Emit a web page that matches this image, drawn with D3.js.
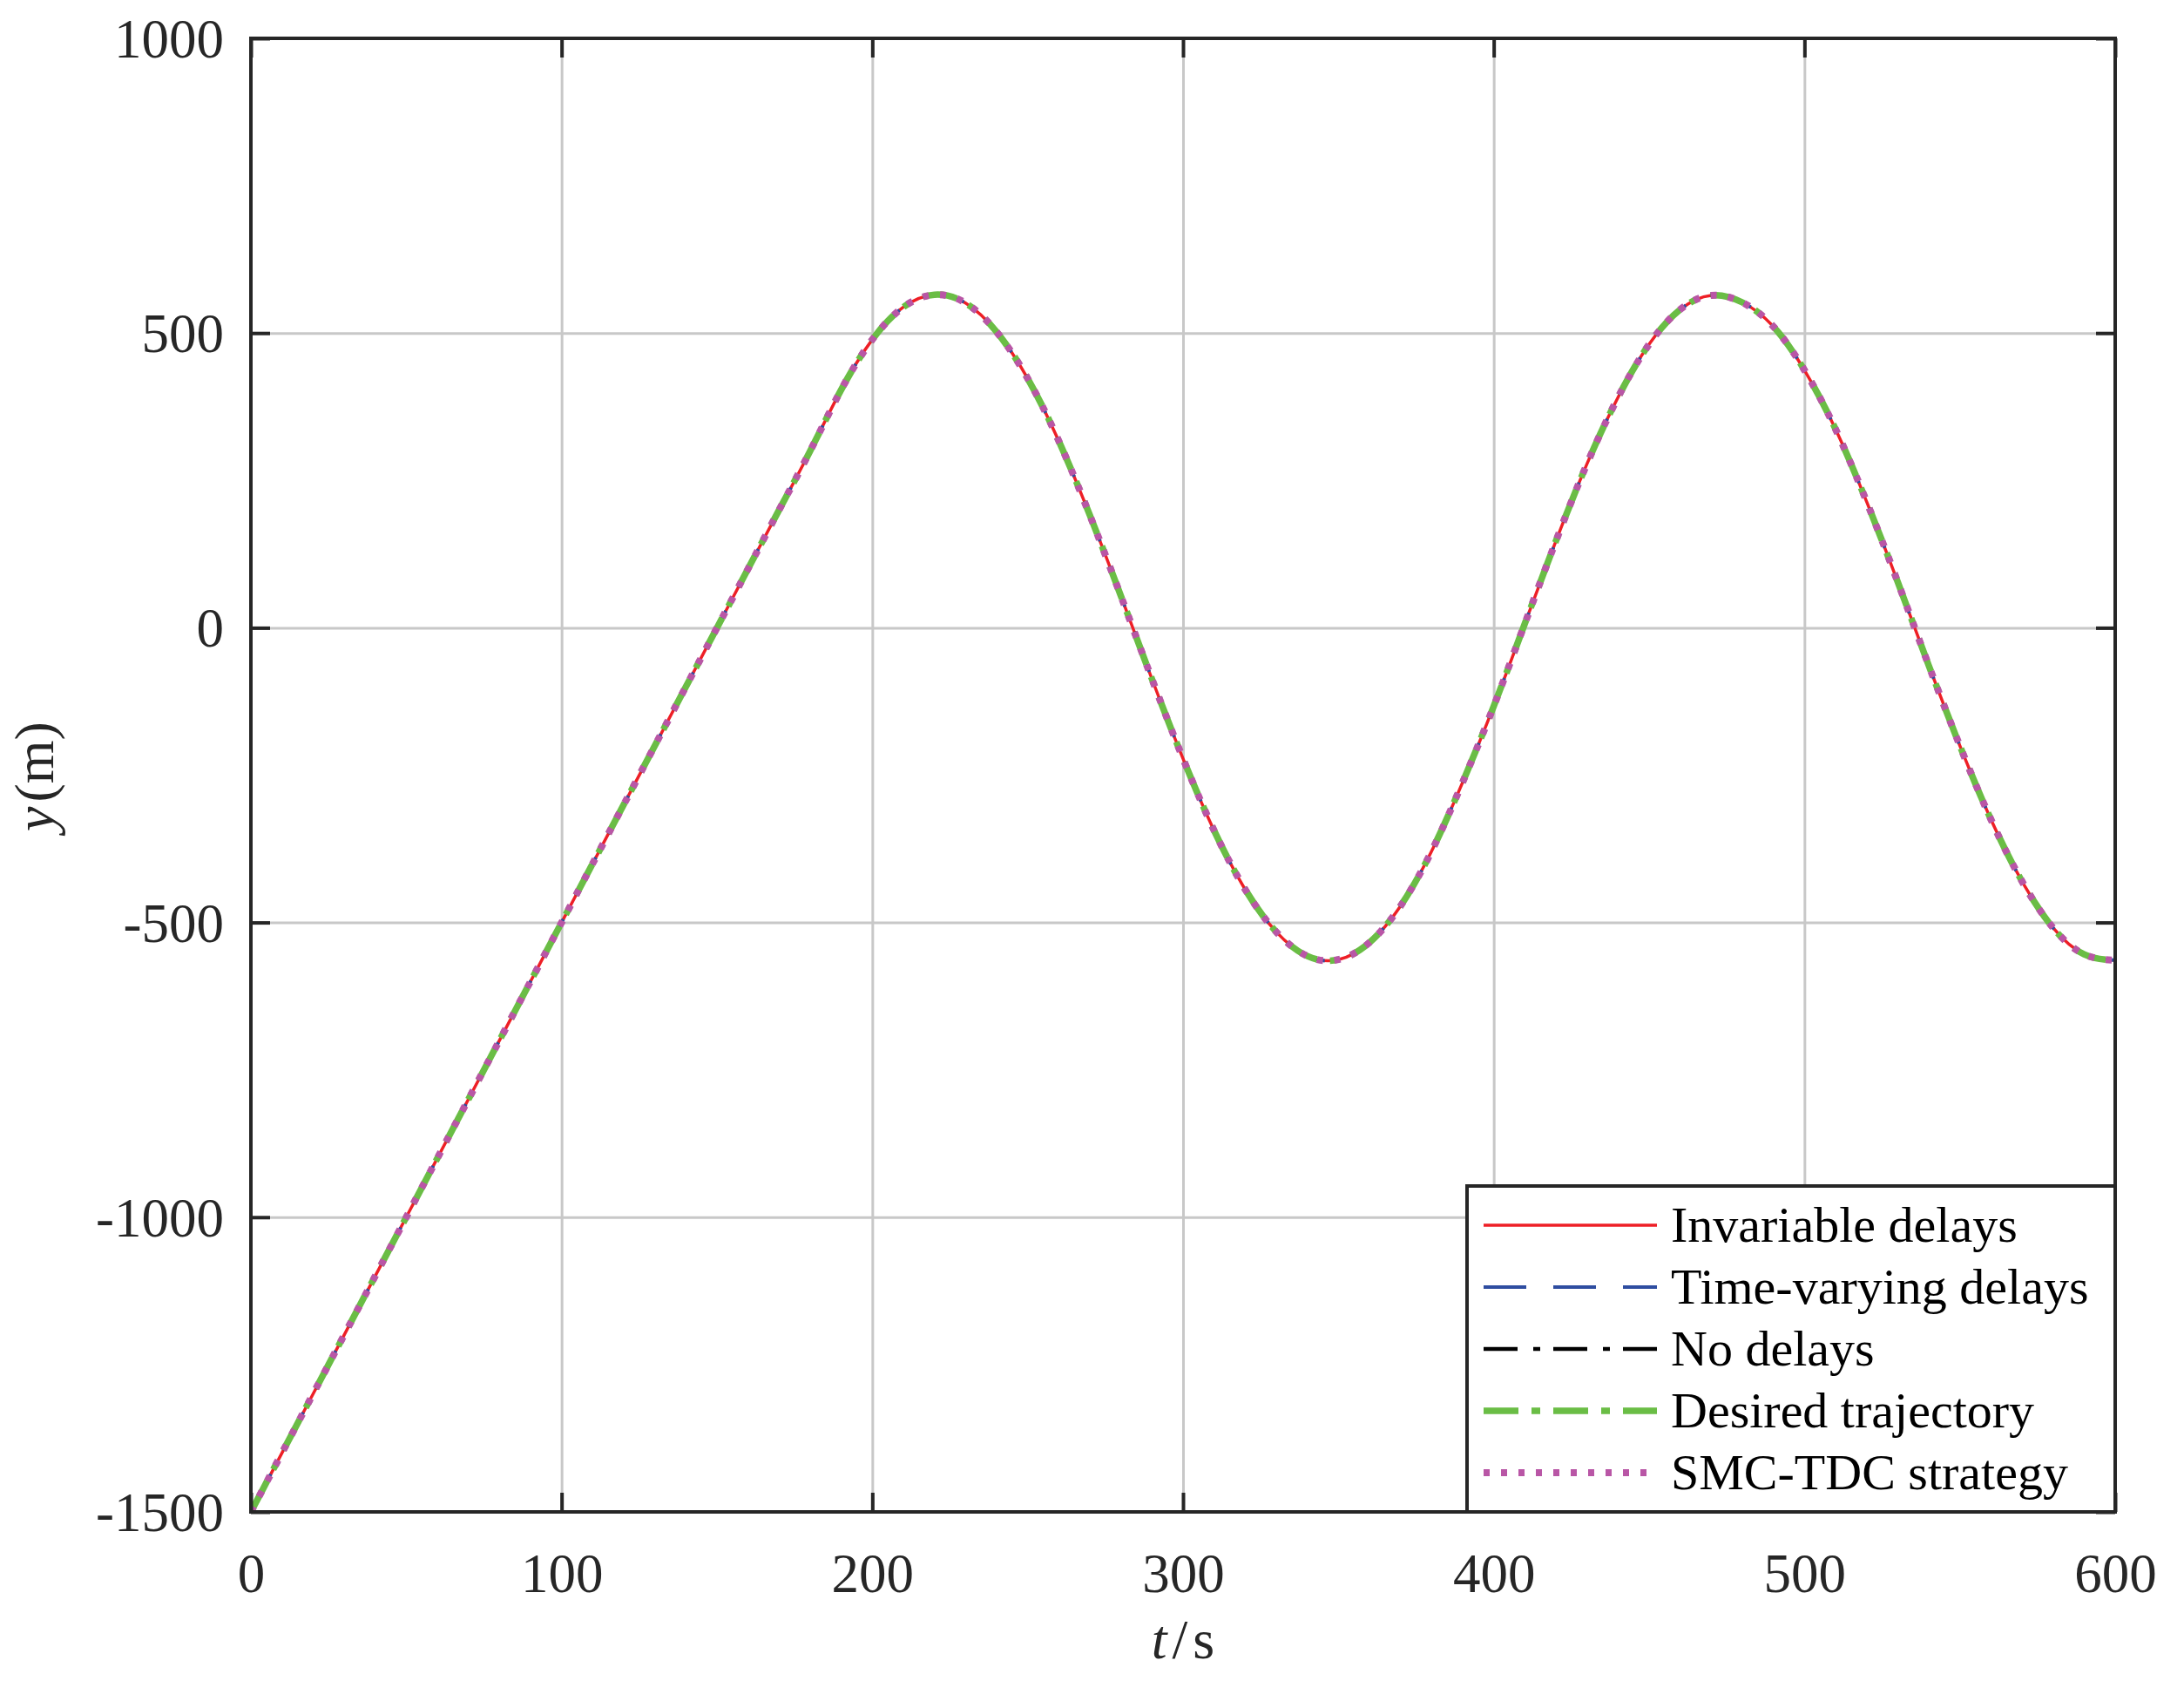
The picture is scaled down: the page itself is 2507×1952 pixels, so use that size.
<!DOCTYPE html>
<html>
<head>
<meta charset="utf-8">
<script src="https://cdn.jsdelivr.net/npm/d3@7"></script>
<style>
body { margin: 0; background: #fff; }
text { font-family: "Liberation Serif", "Times New Roman", serif; }
</style>
</head>
<body>
<div id="chart"></div>
<script>
// time axis (s), sampled every 10 s
var timeS = [0, 10, 20, 30, 40, 50, 60, 70, 80, 90,
    100, 110, 120, 130, 140, 150, 160, 170, 180, 190,
    200, 210, 220, 230, 240, 250, 260, 270, 280, 290,
    300, 310, 320, 330, 340, 350, 360, 370, 380, 390,
    400, 410, 420, 430, 440, 450, 460, 470, 480, 490,
    500, 510, 520, 530, 540, 550, 560, 570, 580, 590, 600]

// y position (m); all five traces sit on top of each other
var yPos = [-1500, -1400, -1300, -1200, -1100, -1000, -900, -800, -700, -600,
    -500, -400, -300, -200, -100, 0, 100, 200, 300, 404,
    489, 544, 565, 551, 502, 423, 317, 191, 54, -87,
    -222, -344, -444, -516, -557, -563, -534, -472, -379, -262,
    -133, 7, 147, 278, 391, 481, 540, 564, 552, 511,
    437, 337, 214, 78, -64, -200, -325, -430, -509, -554, -564]

var seriesNames = ["Invariable delays", "Time-varying delays", "No delays", "Desired trajectory", "SMC-TDC strategy"]

var xTicks = [0, 100, 200, 300, 400, 500, 600]
var yTicks = [-1500, -1000, -500, 0, 500, 1000]

// line styles, same order as seriesNames
var styles = [
    { color: "#ee1f26", width: 3.5, dash: null },
    { color: "#2e4da0", width: 4, dash: "49,31" },
    { color: "#000000", width: 4.5, dash: "39,18,8,15" },
    { color: "#6abd45", width: 7.5, dash: "40,15,10,15" },
    { color: "#b956a6", width: 8, dash: "7,13" }
]

var W = 2507, H = 1952
var margin = { top: 44, right: 79, bottom: 217, left: 288 }
var width = W - margin.left - margin.right
var height = H - margin.top - margin.bottom
var axisCol = "#262626"
var plain = d => String(d)

var svg = d3.select("#chart").append("svg")
    .attr("width", W)
    .attr("height", H)
    .style("background", "#fff")

var g = svg.append("g")
    .attr("transform", "translate(" + margin.left + "," + margin.top + ")")

var x = d3.scaleLinear().domain([0, 600]).range([0, width])
var y = d3.scaleLinear().domain([-1500, 1000]).range([height, 0])

// grid
g.append("g")
    .attr("transform", "translate(0," + height + ")")
    .call(d3.axisBottom(x).tickValues(xTicks).tickSize(-height).tickFormat(""))
    .call(a => {
        a.select(".domain").remove()
        a.selectAll("line").attr("stroke", "#c8c8c8").attr("stroke-width", 3)
    })
g.append("g")
    .call(d3.axisLeft(y).tickValues(yTicks).tickSize(-width).tickFormat(""))
    .call(a => {
        a.select(".domain").remove()
        a.selectAll("line").attr("stroke", "#c8c8c8").attr("stroke-width", 3)
    })

// data
g.append("clipPath").attr("id", "clip")
    .append("rect").attr("x", -2).attr("y", -2).attr("width", width + 4).attr("height", height + 4)

var pts = timeS.map((t, i) => [t, yPos[i]])
var line = d3.line()
    .x(d => x(d[0]))
    .y(d => y(d[1]))
    .curve(d3.curveNatural)

styles.forEach(s => {
    g.append("path")
        .datum(pts)
        .attr("clip-path", "url(#clip)")
        .attr("d", line)
        .attr("fill", "none")
        .attr("stroke", s.color)
        .attr("stroke-width", s.width)
        .attr("stroke-dasharray", s.dash)
        .attr("stroke-linecap", "butt")
        .attr("stroke-linejoin", "round")
})

// axes with inward ticks on all four sides
function styleAxis(a) {
    a.select(".domain").remove()
    a.selectAll("line").attr("stroke", axisCol).attr("stroke-width", 4)
    a.selectAll("text")
        .attr("fill", axisCol)
        .style("font-size", "63px")
}

g.append("g")
    .attr("transform", "translate(0," + height + ")")
    .call(d3.axisBottom(x).tickValues(xTicks).tickFormat(plain).tickSize(-22).tickSizeOuter(0).tickPadding(0))
    .call(styleAxis)
    .call(a => a.selectAll("text").attr("y", 92).attr("dy", "0"))

g.append("g")
    .call(d3.axisLeft(y).tickValues(yTicks).tickFormat(plain).tickSize(-22).tickSizeOuter(0).tickPadding(31))
    .call(styleAxis)
    .call(a => a.selectAll("text").attr("dy", "0.34em"))

g.append("g")
    .call(d3.axisTop(x).tickValues(xTicks).tickSize(-22).tickSizeOuter(0).tickFormat(""))
    .call(styleAxis)

g.append("g")
    .attr("transform", "translate(" + width + ",0)")
    .call(d3.axisRight(y).tickValues(yTicks).tickSize(-22).tickSizeOuter(0).tickFormat(""))
    .call(styleAxis)

// frame
g.append("rect")
    .attr("width", width)
    .attr("height", height)
    .attr("fill", "none")
    .attr("stroke", axisCol)
    .attr("stroke-width", 4)

// axis labels
var xl = svg.append("text")
    .attr("x", margin.left + width / 2)
    .attr("y", 1903)
    .attr("text-anchor", "middle")
    .attr("fill", axisCol)
    .style("font-size", "64px")
xl.append("tspan").style("font-style", "italic").text("t")
xl.append("tspan").attr("dx", 6).text("/")
xl.append("tspan").attr("dx", 6).text("s")

var yl = svg.append("text")
    .attr("transform", "translate(61,891) rotate(-90)")
    .attr("text-anchor", "middle")
    .attr("fill", axisCol)
    .style("font-size", "64px")
yl.append("tspan").style("font-style", "italic").text("y")
yl.append("tspan").attr("dx", 5).text("(m)")

// legend
var lg = {
    left: 1684, top: 1361, right: margin.left + width, bottom: margin.top + height,
    row0: 1406, rowStep: 71, lineX0: 1703, lineX1: 1902, textX: 1918
}
svg.append("rect")
    .attr("x", lg.left)
    .attr("y", lg.top)
    .attr("width", lg.right - lg.left)
    .attr("height", lg.bottom - lg.top)
    .attr("fill", "#fff")
    .attr("stroke", axisCol)
    .attr("stroke-width", 4)

var rows = svg.append("g").selectAll("g")
    .data(seriesNames)
    .enter().append("g")
    .attr("transform", (d, i) => "translate(0," + (lg.row0 + i * lg.rowStep) + ")")

rows.append("line")
    .attr("x1", lg.lineX0)
    .attr("x2", lg.lineX1)
    .attr("stroke", (d, i) => styles[i].color)
    .attr("stroke-width", (d, i) => styles[i].width)
    .attr("stroke-dasharray", (d, i) => styles[i].dash)

rows.append("text")
    .attr("x", lg.textX)
    .attr("y", 19)
    .attr("fill", "#000")
    .style("font-size", "58px")
    .text(d => d)
</script>
</body>
</html>
